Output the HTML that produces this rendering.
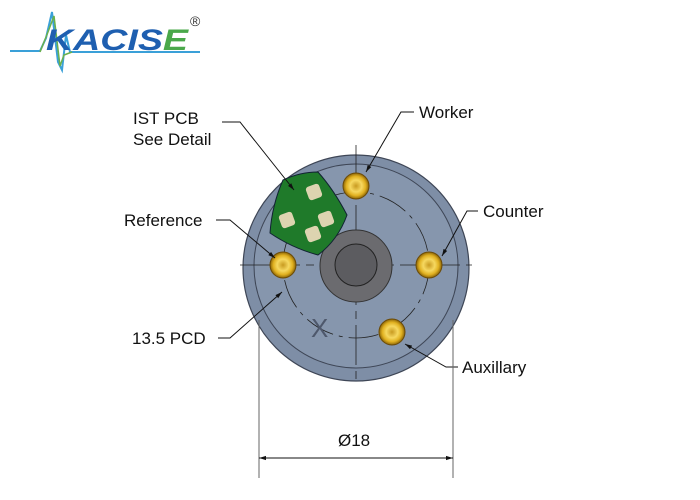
<!DOCTYPE html>
<html><head><meta charset="utf-8"><style>
html,body{margin:0;padding:0;background:#fff;}
svg{display:block;}
text{font-family:"Liberation Sans",sans-serif;fill:#111;}
</style></head><body>
<svg width="700" height="500" viewBox="0 0 700 500">
<defs>
<radialGradient id="g" cx="0.5" cy="0.5" r="0.5">
<stop offset="0" stop-color="#c89a20"/><stop offset="0.45" stop-color="#f6d860"/><stop offset="0.75" stop-color="#e0b020"/><stop offset="1" stop-color="#8a6408"/>
</radialGradient>
<marker id="a" viewBox="0 0 10 10" refX="10" refY="5" markerWidth="7" markerHeight="7" orient="auto-start-reverse"><path d="M0,2 L10,5 L0,8z" fill="#111"/></marker>
</defs>
<!-- logo -->
<polyline points="10,51 40,51 46,38 52,12 58,62 62,70 66,35 70,52 200,52" fill="none" stroke="#3aa0d8" stroke-width="2"/>
<polyline points="40,52 48,32 54,16 60,66 64,55 72,52" fill="none" stroke="#6ab04c" stroke-width="1.5"/>
<text x="46" y="50" font-size="30" font-weight="bold" font-style="italic" textLength="142" lengthAdjust="spacingAndGlyphs" style="fill:#1e5fb0">KACIS<tspan style="fill:#4aa84a">E</tspan></text>
<text x="190" y="26" font-size="14" style="fill:#333">®</text>
<!-- body -->
<circle cx="356" cy="268" r="113" fill="#7e8ea6" stroke="#3e4656" stroke-width="1.2"/>
<circle cx="356" cy="266" r="102" fill="#8696ad" stroke="#3e4656" stroke-width="1"/>
<circle cx="356" cy="265" r="73" fill="none" stroke="#222" stroke-width="0.8" stroke-dasharray="30,6,4,6"/>
<line x1="240" y1="265" x2="472" y2="265" stroke="#222" stroke-width="0.8" stroke-dasharray="60,6,8,6"/>
<line x1="356" y1="145" x2="356" y2="385" stroke="#222" stroke-width="0.8" stroke-dasharray="40,6,8,6"/>
<circle cx="356" cy="266" r="36" fill="#6b6b6f" stroke="#333"/>
<circle cx="356" cy="265" r="21" fill="#5c5c60" stroke="#222"/>
<!-- PCB -->
<path d="M270,233 Q272,205 283,180 Q300,172 318,172 Q334,190 347,215 Q338,240 318,255 Q292,248 270,233z" fill="#1f7a2a" stroke="#123"/>
<g fill="#ddd4b0">
<rect x="307" y="185" width="14" height="14" rx="3" transform="rotate(-20 314 192)"/>
<rect x="280" y="213" width="14" height="14" rx="3" transform="rotate(-20 287 220)"/>
<rect x="319" y="212" width="14" height="14" rx="3" transform="rotate(-20 326 219)"/>
<rect x="306" y="227" width="14" height="14" rx="3" transform="rotate(-20 313 234)"/>
</g>
<text x="311" y="337" font-size="26" style="fill:#4e586c">X</text>
<!-- pins -->
<g stroke="#6a4a08" stroke-width="1">
<circle cx="356" cy="186" r="13" fill="url(#g)"/>
<circle cx="283" cy="265" r="13" fill="url(#g)"/>
<circle cx="429" cy="265" r="13" fill="url(#g)"/>
<circle cx="392" cy="332" r="13" fill="url(#g)"/>
</g>
<!-- leaders -->
<g stroke="#111" stroke-width="1" fill="none">
<polyline points="222,122 240,122 294,190" marker-end="url(#a)"/>
<polyline points="414,112 401,112 366,172" marker-end="url(#a)"/>
<polyline points="216,220 230,220 275,258" marker-end="url(#a)"/>
<polyline points="478,211 467,211 442,256" marker-end="url(#a)"/>
<polyline points="218,338 230,338 282,292" marker-end="url(#a)"/>
<polyline points="458,367 446,367 405,344" marker-end="url(#a)"/>
<line x1="259" y1="320" x2="259" y2="478" stroke="#666"/>
<line x1="453" y1="320" x2="453" y2="478" stroke="#666"/>
<line x1="259" y1="458" x2="453" y2="458" marker-start="url(#a)" marker-end="url(#a)"/>
</g>
<g font-size="17">
<text x="133" y="124">IST PCB</text>
<text x="133" y="145">See Detail</text>
<text x="419" y="118">Worker</text>
<text x="124" y="226">Reference</text>
<text x="483" y="217">Counter</text>
<text x="132" y="344">13.5 PCD</text>
<text x="462" y="373">Auxillary</text>
<text x="338" y="446">Ø18</text>
</g>
</svg>
</body></html>
